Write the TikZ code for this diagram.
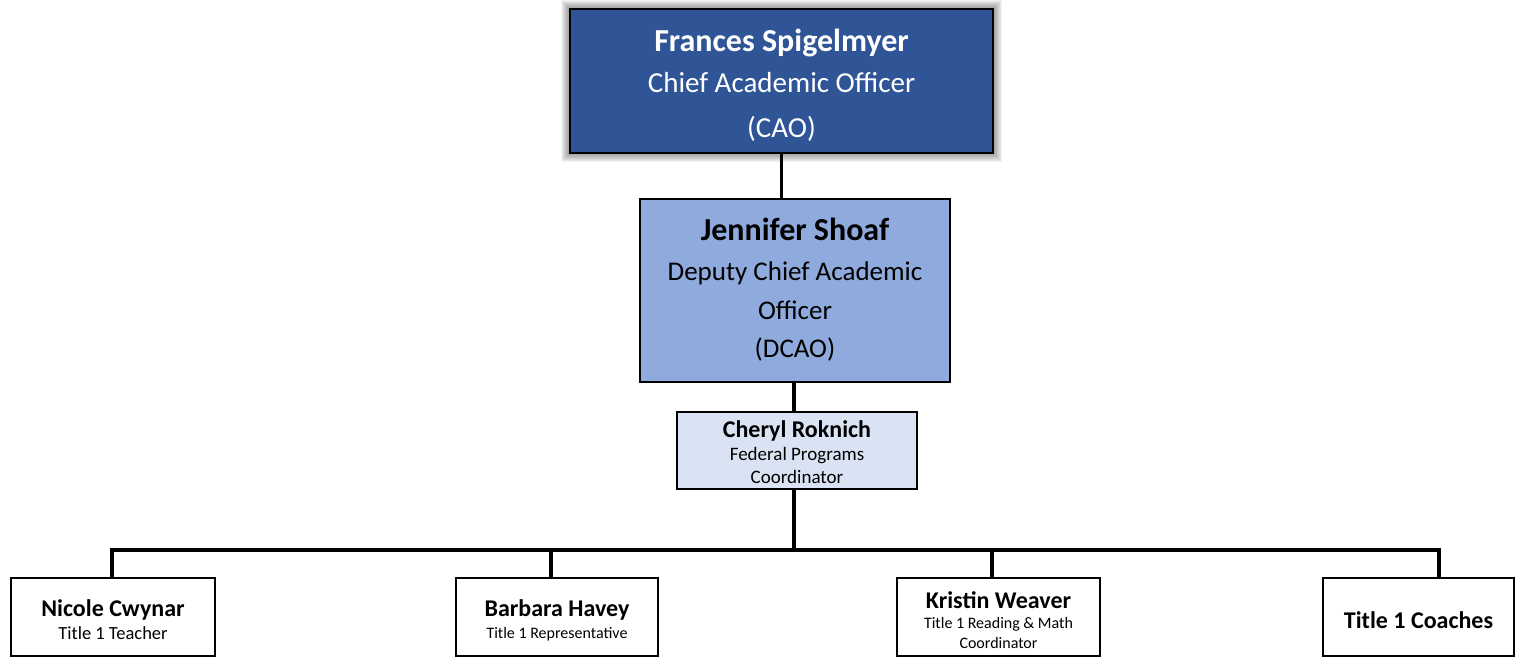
\documentclass[tikz,border=0pt]{standalone}
\usepackage{fontspec}
\setmainfont{Carlito}
\begin{document}
\begin{tikzpicture}[x=1pt,y=-1pt,
  box/.style={draw=black,line width=1.3pt,rectangle,inner sep=0pt},
  wire/.style={line width=3.5pt,draw=black},
  txt/.style={anchor=base,inner sep=0pt},
]
\definecolor{caoblue}{HTML}{2F5597}
\definecolor{dcaoblue}{HTML}{8FAADC}
\definecolor{fedblue}{HTML}{DAE3F3}
\useasboundingbox (0,0) rectangle (1515,657);

% soft glow behind the top box
\foreach \r in {1,...,9}
  \fill[black,opacity=0.05] (570-\r,9-\r) rectangle (993+\r,153+\r);

% boxes
\node[box,fill=caoblue,minimum width=423pt,minimum height=144pt] (cao) at (781.5,81) {};
\node[box,fill=dcaoblue,minimum width=310pt,minimum height=183pt] (dcao) at (795,290.5) {};
\node[box,fill=fedblue,minimum width=240pt,minimum height=77pt] (fed) at (797,450.5) {};
\node[box,fill=white,minimum width=204pt,minimum height=78pt] (nicole) at (113,617) {};
\node[box,fill=white,minimum width=202pt,minimum height=78pt] (barbara) at (557,617) {};
\node[box,fill=white,minimum width=203pt,minimum height=78pt] (kristin) at (998.5,617) {};
\node[box,fill=white,minimum width=191pt,minimum height=78pt] (coaches) at (1418.5,617) {};

% texts
\node[txt,text=white,font=\fontsize{32}{36}\selectfont\bfseries] (caoA) at (781.5,51) {Frances Spigelmyer};
\node[txt,text=white,font=\fontsize{29}{33}\selectfont] (caoB) at (781.5,92) {Chief Academic Officer};
\node[txt,text=white,font=\fontsize{29}{33}\selectfont] (caoC) at (781.5,137) {(CAO)};

\node[txt,font=\fontsize{32}{36}\selectfont\bfseries] (dcaoA) at (795,240) {Jennifer Shoaf};
\node[txt,font=\fontsize{27}{31}\selectfont] (dcaoB) at (795,280) {Deputy Chief Academic};
\node[txt,font=\fontsize{27}{31}\selectfont] (dcaoC) at (795,319) {Officer};
\node[txt,font=\fontsize{27}{31}\selectfont] (dcaoD) at (795,357) {(DCAO)};

\node[txt,font=\fontsize{24}{28}\selectfont\bfseries] (fedA) at (797,437) {Cheryl Roknich};
\node[txt,font=\fontsize{19}{22}\selectfont] (fedB) at (797,460) {Federal Programs};
\node[txt,font=\fontsize{19}{22}\selectfont] (fedC) at (797,483) {Coordinator};

\node[txt,font=\fontsize{24}{28}\selectfont\bfseries] (nicA) at (113,616) {Nicole Cwynar};
\node[txt,font=\fontsize{18.5}{22}\selectfont] (nicB) at (113,639) {Title 1 Teacher};

\node[txt,font=\fontsize{24}{28}\selectfont\bfseries] (barA) at (557,616) {Barbara Havey};
\node[txt,font=\fontsize{16}{19}\selectfont] (barB) at (557,638) {Title 1 Representative};

\node[txt,font=\fontsize{24}{28}\selectfont\bfseries] (kriA) at (998.5,608) {Kristin Weaver};
\node[txt,font=\fontsize{16}{19}\selectfont] (kriB) at (998.5,628) {Title 1 Reading \& Math};
\node[txt,font=\fontsize{16}{19}\selectfont] (kriC) at (998.5,648) {Coordinator};

\node[txt,font=\fontsize{24}{28}\selectfont\bfseries] (coaA) at (1418.5,628) {Title 1 Coaches};

% connectors
\coordinate (hub) at (794,550);
\coordinate (d1) at (112,550);
\coordinate (d2) at (551,550);
\coordinate (d3) at (992,550);
\coordinate (d4) at (1439,550);
\draw[wire] (cao.south) -- (cao.south |- dcao.north);
\draw[wire] (hub |- dcao.south) -- (hub |- fed.north);
\draw[wire] (hub |- fed.south) -- (hub);
\draw[wire,line cap=rect] (d1) -- (d4);
\draw[wire] (d1) -- (d1 |- nicole.north);
\draw[wire] (d2) -- (d2 |- barbara.north);
\draw[wire] (d3) -- (d3 |- kristin.north);
\draw[wire] (d4) -- (d4 |- coaches.north);
\end{tikzpicture}
\end{document}
